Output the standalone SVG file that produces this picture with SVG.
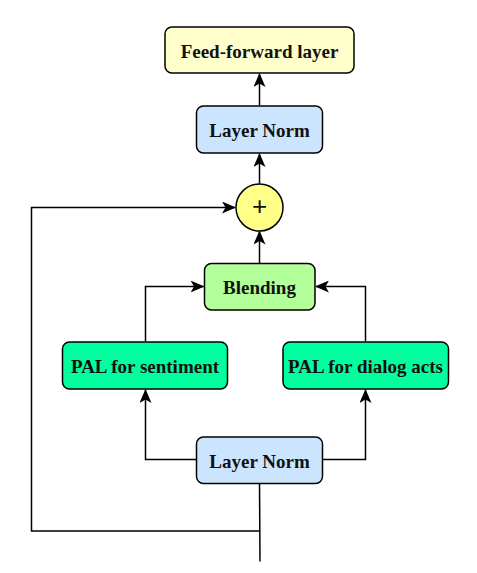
<svg xmlns="http://www.w3.org/2000/svg" width="477" height="573" viewBox="0 0 477 573">
<style>
.box{stroke:#000;stroke-width:1.5}
.t{font-family:"Liberation Serif",serif;font-weight:bold;font-size:19px;fill:#111;text-anchor:middle;dominant-baseline:central}
.c{fill:none;stroke:#000;stroke-width:1.5}
</style>
<defs>
<marker id="ah" viewBox="0 0 14 12" refX="13" refY="6" markerWidth="14" markerHeight="12" markerUnits="userSpaceOnUse" orient="auto">
<path d="M0,0 L14,6 L0,12 L3.5,6 Z" fill="#000"/>
</marker>
</defs>
<rect width="477" height="573" fill="#fff"/>
<g id="connectors">
<path class="c" d="M259.5,105.5 V74" marker-end="url(#ah)"/>
<path class="c" d="M259.5,183.5 V154" marker-end="url(#ah)"/>
<path class="c" d="M259.5,263 V231.5" marker-end="url(#ah)"/>
<path class="c" d="M259.5,483.5 L260,561.5"/>
<path class="c" d="M260,531 H31.5 V207.5 H235" marker-end="url(#ah)"/>
<path class="c" d="M196.5,459.5 H145.5 V390" marker-end="url(#ah)"/>
<path class="c" d="M322.5,459.5 H365.5 V390" marker-end="url(#ah)"/>
<path class="c" d="M145.5,341.5 V286.5 H203.5" marker-end="url(#ah)"/>
<path class="c" d="M365.5,341.5 V286.5 H316" marker-end="url(#ah)"/>
</g>
<g id="ff">
<rect class="box" x="165" y="27" width="189" height="46" rx="7" fill="#ffffcc"/>
<text class="t" x="259.5" y="51">Feed-forward layer</text>
</g>
<g id="ln-top">
<rect class="box" x="196.5" y="106" width="126" height="47" rx="7" fill="#cce5ff"/>
<text class="t" x="259.5" y="130.5">Layer Norm</text>
</g>
<g id="add">
<circle class="box" cx="259.5" cy="207.5" r="23.5" fill="#ffff88"/>
<text class="t" x="259.5" y="206" style="font-weight:normal;font-family:'Liberation Sans',sans-serif;font-size:26px">+</text>
</g>
<g id="blend">
<rect class="box" x="204.5" y="263.5" width="110.5" height="46.5" rx="7" fill="#b3ff99"/>
<text class="t" x="259.5" y="287.5">Blending</text>
</g>
<g id="pal-sent">
<rect class="box" x="62.5" y="342" width="165" height="47" rx="7" fill="#00ff9f"/>
<text class="t" x="145" y="366">PAL for sentiment</text>
</g>
<g id="pal-dial">
<rect class="box" x="283" y="342" width="165.5" height="47" rx="7" fill="#00ff9f"/>
<text class="t" x="365.5" y="366">PAL for dialog acts</text>
</g>
<g id="ln-bot">
<rect class="box" x="196.5" y="437" width="126" height="46.5" rx="7" fill="#cce5ff"/>
<text class="t" x="259.5" y="461">Layer Norm</text>
</g>
</svg>
